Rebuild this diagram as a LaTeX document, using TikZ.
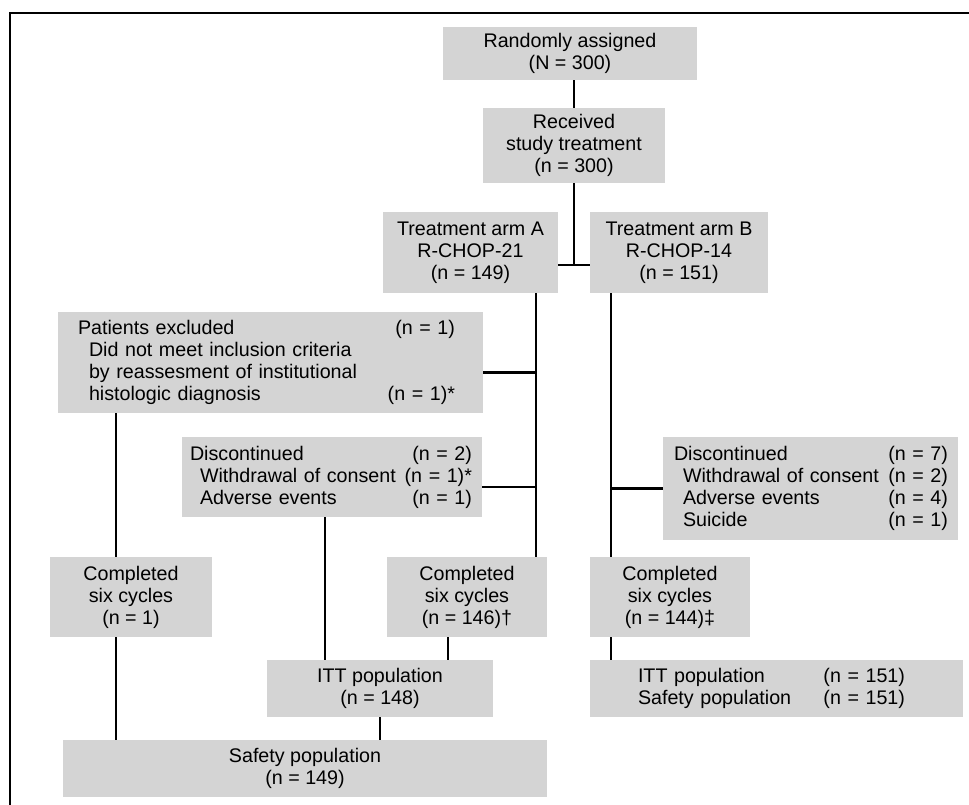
\documentclass[tikz,border=0pt]{standalone}
\usepackage{fontspec}
\setmainfont{Liberation Sans}
\definecolor{boxgray}{gray}{0.83}
\newcommand{\unitpx}{0.03cm}
\newcommand{\rpad}[1]{\hspace*{#1}\null}
\tikzset{
  box/.style={fill=boxgray, inner sep=0pt, align=center, font=\fontsize{16.8}{18.8}\selectfont},
  listbox/.style={box, align=left},
  link/.style={line width=2.4pt},
}

\begin{document}
\begin{tikzpicture}[x=\unitpx, y=-\unitpx]
    \useasboundingbox (0,0) rectangle (969,805);

    % Cornice
    \draw[line width=1.2pt] (969,13) -- (10,13) -- (10,805);

    % Riquadri in alto
    \node[box, minimum width=254*\unitpx, minimum height=53*\unitpx] (rand) at (570,53.5) {Randomly assigned\\(N = 300)};
    \node[box, minimum width=182*\unitpx, minimum height=75*\unitpx] (recv) at (574,145.5) {Received\\study treatment\\(n = 300)};
    \node[box, minimum width=175*\unitpx, minimum height=81*\unitpx] (armA) at (470.5,252.5) {Treatment arm A\\R-CHOP-21\\(n = 149)};
    \node[box, minimum width=178*\unitpx, minimum height=81*\unitpx] (armB) at (679,252.5) {Treatment arm B\\R-CHOP-14\\(n = 151)};

    % Esclusi e sospesi
    \node[listbox, text width=425*\unitpx, minimum height=101*\unitpx] (excl) at (270.5,362.5)
      {\hspace*{0.6cm}Patients excluded\hfill(n = 1)\rpad{0.84cm}\\
       \hspace*{0.93cm}Did not meet inclusion criteria\\
       \hspace*{0.93cm}by reassesment of institutional\\
       \hspace*{0.93cm}histologic diagnosis\hfill(n = 1)*\rpad{0.84cm}};
    \node[listbox, text width=300*\unitpx, minimum height=80*\unitpx] (discA) at (332,477)
      {\hspace*{0.24cm}Discontinued\hfill(n = 2)\rpad{0.3cm}\\
       \hspace*{0.54cm}Withdrawal of consent\hfill(n = 1)*\rpad{0.3cm}\\
       \hspace*{0.54cm}Adverse events\hfill(n = 1)\rpad{0.3cm}};
    \node[listbox, text width=295*\unitpx, minimum height=103*\unitpx] (discB) at (810.5,488.5)
      {\hspace*{0.33cm}Discontinued\hfill(n = 7)\rpad{0.3cm}\\
       \hspace*{0.6cm}Withdrawal of consent\hfill(n = 2)\rpad{0.3cm}\\
       \hspace*{0.6cm}Adverse events\hfill(n = 4)\rpad{0.3cm}\\
       \hspace*{0.6cm}Suicide\hfill(n = 1)\rpad{0.3cm}};

    % Cicli completati
    \node[box, minimum width=162*\unitpx, minimum height=80*\unitpx] (doneL) at (131,597) {Completed\\six cycles\\(n = 1)};
    \node[box, minimum width=160*\unitpx, minimum height=80*\unitpx] (doneA) at (467,597) {Completed\\six cycles\\(n = 146)†};
    \node[box, minimum width=160*\unitpx, minimum height=80*\unitpx] (doneB) at (670,597) {Completed\\six cycles\\(n = 144)‡};

    % Popolazioni
    \node[box, minimum width=226*\unitpx, minimum height=57*\unitpx] (ittA) at (380,688.5) {ITT population\\(n = 148)};
    \node[listbox, text width=373*\unitpx, minimum height=57*\unitpx] (ittB) at (776.5,688.5)
      {\hspace*{1.44cm}ITT population\hfill(n = 151)\rpad{1.74cm}\\
       \hspace*{1.44cm}Safety population\hfill(n = 151)\rpad{1.74cm}};
    \node[box, minimum width=484*\unitpx, minimum height=57*\unitpx] (safety) at (305,768.5) {Safety population\\(n = 149)};

    % Collegamenti
    \coordinate (tee) at (575,265);
    \coordinate (trunkL) at (116,0);
    \coordinate (trunkD) at (325,0);
    \coordinate (stubA) at (448,0);
    \coordinate (trunkA) at (536,0);
    \coordinate (trunkB) at (611,0);

    \draw[link] (recv.north |- rand.south) -- (recv.north);
    \draw[link] (recv.south) -- (recv.south |- tee);
    \draw[link] (armA.east |- tee) -- (armB.west |- tee);

    \draw[link] (armA.south -| trunkA) -- (doneA.north -| trunkA);
    \draw[link] (armB.south -| trunkB) -- (doneB.north -| trunkB);
    \draw[link] ([yshift=-0.3cm]excl.east) -- ([yshift=-0.3cm]excl.east -| trunkA);
    \draw[link] ([yshift=-0.3cm]discA.east) -- ([yshift=-0.3cm]discA.east -| trunkA);
    \draw[link] (discB.west) -- (discB.west -| trunkB);

    \draw[link] (excl.south -| trunkL) -- (doneL.north -| trunkL);
    \draw[link] (doneL.south -| trunkL) -- (safety.north -| trunkL);
    \draw[link] (discA.south -| trunkD) -- (ittA.north -| trunkD);
    \draw[link] (doneA.south -| stubA) -- (ittA.north -| stubA);
    \draw[link] (ittA.south) -- (ittA.south |- safety.north);
    \draw[link] (doneB.south -| trunkB) -- (ittB.north -| trunkB);

\end{tikzpicture}
\end{document}
